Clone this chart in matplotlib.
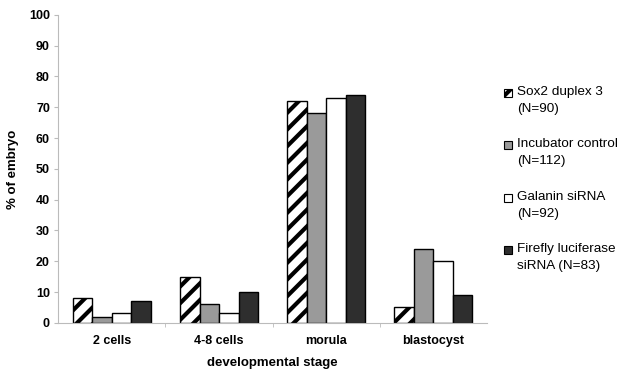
import matplotlib
matplotlib.use("Agg")
import matplotlib.pyplot as plt
from matplotlib.patches import Rectangle
import numpy as np

plt.rcParams['font.family'] = ['Liberation Sans', 'DejaVu Sans']
plt.rcParams['hatch.linewidth'] = 3.0

categories = ["2 cells", "4-8 cells", "morula", "blastocyst"]
series_names = ["Sox2 duplex 3\n(N=90)", "Incubator control\n(N=112)",
                "Galanin siRNA\n(N=92)", "Firefly luciferase\nsiRNA (N=83)"]
sox2 = [8, 15, 72, 5]
incubator = [2, 6, 68, 24]
galanin = [3.3, 3.3, 73, 20]
firefly = [7.2, 10, 74, 9]
series = [sox2, incubator, galanin, firefly]

colors = ["white", "#9a9a9a", "white", "#2e2e2e"]
hatches = ["//", None, None, None]

W, H = 626, 372
fig = plt.figure(figsize=(W / 100, H / 100), dpi=100)
ax = fig.add_axes([0.093, 0.132, 0.685, 0.828])

x = np.arange(len(categories))
w = 0.182
for i, (vals, c, h) in enumerate(zip(series, colors, hatches)):
    ax.bar(x + (i - 1.5) * w, vals, width=w, color=c, edgecolor="black",
           linewidth=1.0, hatch=h, label=series_names[i])

ax.set_xlim(-0.5, 3.5)
ax.set_ylim(0, 100)
ax.set_yticks(range(0, 101, 10))
ax.set_xticks(x)
ax.set_xticklabels(categories, fontsize=9, fontweight="bold")
ax.tick_params(axis='x', length=0, pad=9)
ax.tick_params(axis='y', labelsize=9, length=3, color="#bbbbbb", pad=3)
for lbl in ax.get_yticklabels():
    lbl.set_fontweight("bold")
ax.set_xticks([0.5, 1.5, 2.5], minor=True)
ax.tick_params(axis='x', which='minor', length=3, color="#bbbbbb")
for s in ["top", "right"]:
    ax.spines[s].set_visible(False)
for s in ["left", "bottom"]:
    ax.spines[s].set_color("#bbbbbb")
ax.set_xlabel("developmental stage", fontsize=9.5, fontweight="bold", labelpad=7)
ax.set_ylabel("% of embryo", fontsize=9.5, fontweight="bold", labelpad=7)

# legend drawn manually: square aligned with the first text line
for i, (name, c, h) in enumerate(zip(series_names, colors, hatches)):
    yc = 93 + 52.3 * i
    fig.patches.append(Rectangle((504 / W, 1 - (yc + 4) / H), 8 / W, 8 / H,
                                 transform=fig.transFigure, facecolor=c,
                                 edgecolor="black", linewidth=0.8,
                                 hatch=h, figure=fig))
    fig.text(517 / W, 1 - (yc - 7) / H, name, fontsize=9.7, va="top",
             ha="left", linespacing=1.55)

fig.savefig("out.png", dpi=100)
